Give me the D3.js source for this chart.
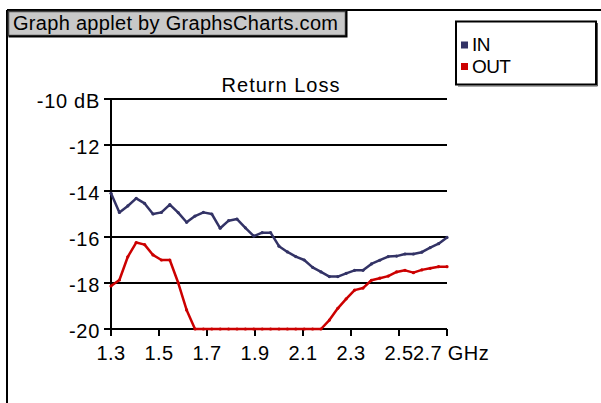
<!DOCTYPE html>
<html>
<head>
<meta charset="utf-8">
<script src="https://cdn.jsdelivr.net/npm/d3@7"></script>
<style>
  html, body { margin: 0; padding: 0; background: #fff; }
  svg { display: block; }
  text { font-family: "Liberation Sans", Arial, sans-serif; fill: #000; }
</style>
</head>
<body>
<svg id="chart" width="601" height="403"></svg>
<script>
// ---- data ----
const freqStart = 1.3, freqStep = 0.035;
const inValues = [-14.1, -14.93, -14.65, -14.32, -14.54, -15.0, -14.93, -14.59, -14.94, -15.36,
                  -15.09, -14.93, -15.0, -15.62, -15.29, -15.22, -15.6, -15.96, -15.81, -15.81,
                  -16.4, -16.65, -16.85, -17.0, -17.32, -17.52, -17.72, -17.72, -17.58, -17.45,
                  -17.45, -17.17, -17.01, -16.85, -16.83, -16.74, -16.74, -16.66, -16.46, -16.29, -16.02];
const outValues = [-18.13, -17.87, -16.86, -16.24, -16.33, -16.78, -17.0, -17.0, -17.99, -19.17,
                   -20, -20, -20, -20, -20, -20, -20, -20, -20, -20,
                   -20, -20, -20, -20, -20, -20, -19.61, -19.1, -18.69, -18.31,
                   -18.22, -17.88, -17.79, -17.7, -17.52, -17.45, -17.55, -17.43, -17.36, -17.29, -17.29];
const xTicks = [1.3, 1.5, 1.7, 1.9, 2.1, 2.3, 2.5, 2.7];
const xTickLabels = ["1.3", "1.5", "1.7", "1.9", "2.1", "2.3", "2.5", "2.7 GHz"];
const yTicks = [-10, -12, -14, -16, -18, -20];
const yTickLabels = ["-10 dB", "-12", "-14", "-16", "-18", "-20"];
const seriesNames = ["IN", "OUT"];
const seriesColors = ["#333366", "#cc0000"];
const chartTitle = "Return Loss";
const bannerText = "Graph applet by GraphsCharts.com";

const freqs = inValues.map((_, i) => freqStart + i * freqStep);

// ---- layout ----
const svg = d3.select("#chart");
const x = d3.scaleLinear().domain([1.3, 2.7]).range([111, 447]);
const y = d3.scaleLinear().domain([-20, -10]).range([329, 99]);

// outer frame
svg.append("line").attr("x1", 7).attr("y1", 10).attr("x2", 601).attr("y2", 10)
  .attr("stroke", "#000").attr("stroke-width", 2);
svg.append("line").attr("x1", 7).attr("y1", 10).attr("x2", 7).attr("y2", 403)
  .attr("stroke", "#000").attr("stroke-width", 2);

// banner box
svg.append("rect").attr("x", 8.5).attr("y", 11.5).attr("width", 337).attr("height", 24)
  .attr("fill", "#c8c8c8").attr("stroke", "#444").attr("stroke-width", 1.5);
svg.append("path").attr("d", "M346.5,11 V36.5 H8.5").attr("fill", "none")
  .attr("stroke", "#000").attr("stroke-width", 2);
svg.append("text").attr("x", 13).attr("y", 30).attr("font-size", 20)
  .attr("letter-spacing", 0.3).text(bannerText);

// legend box
svg.append("rect").attr("x", 456).attr("y", 21.5).attr("width", 140).attr("height", 63)
  .attr("fill", "#fff").attr("stroke", "#000").attr("stroke-width", 2);
svg.append("path").attr("d", "M597.5,23 V86 H458").attr("fill", "none")
  .attr("stroke", "#555").attr("stroke-width", 1);
const leg = svg.append("g");
seriesNames.forEach((name, i) => {
  leg.append("rect").attr("x", 461).attr("y", 41.5 + i * 21.5).attr("width", 7).attr("height", 7)
    .attr("fill", seriesColors[i]);
  leg.append("text").attr("x", 472).attr("y", 51 + i * 22).attr("font-size", 19)
    .attr("letter-spacing", -0.6).text(name);
});

// title
svg.append("text").attr("x", 281).attr("y", 92).attr("text-anchor", "middle")
  .attr("font-size", 20).attr("letter-spacing", 1).text(chartTitle);

// grid lines
svg.append("g").selectAll("line").data(yTicks).join("line")
  .attr("x1", 104).attr("x2", 447)
  .attr("y1", d => y(d)).attr("y2", d => y(d))
  .attr("stroke", "#000").attr("stroke-width", 2);

// y axis line
svg.append("line").attr("x1", 111).attr("x2", 111).attr("y1", 99).attr("y2", 329)
  .attr("stroke", "#000").attr("stroke-width", 2);

// x ticks
svg.append("g").selectAll("line").data(xTicks).join("line")
  .attr("x1", d => x(d)).attr("x2", d => x(d))
  .attr("y1", 329).attr("y2", 336)
  .attr("stroke", "#000").attr("stroke-width", 2);

// y labels
svg.append("g").selectAll("text").data(yTicks).join("text")
  .attr("x", 100).attr("y", d => y(d) + 9)
  .attr("text-anchor", "end").attr("font-size", 20).attr("letter-spacing", 0.7)
  .text((d, i) => yTickLabels[i]);

// x labels (last one nudged right so it just clears "2.5")
svg.append("g").selectAll("text").data(xTicks).join("text")
  .attr("x", (d, i) => x(d) + (i === xTicks.length - 1 ? 4 : 0))
  .attr("y", 360)
  .attr("text-anchor", "middle").attr("font-size", 20).attr("letter-spacing", 0.4)
  .text((d, i) => xTickLabels[i]);

// lines
const line = d3.line().x((d, i) => x(freqs[i])).y(d => y(d));
[inValues, outValues].forEach((vals, s) => {
  svg.append("path").datum(vals).attr("d", line)
    .attr("fill", "none").attr("stroke", seriesColors[s]).attr("stroke-width", 2.5)
    .attr("stroke-linejoin", "round");
  svg.append("g").selectAll("circle").data(vals).join("circle")
    .attr("cx", (d, i) => x(freqs[i])).attr("cy", d => y(d)).attr("r", 1.6)
    .attr("fill", seriesColors[s]);
});
</script>
</body>
</html>
